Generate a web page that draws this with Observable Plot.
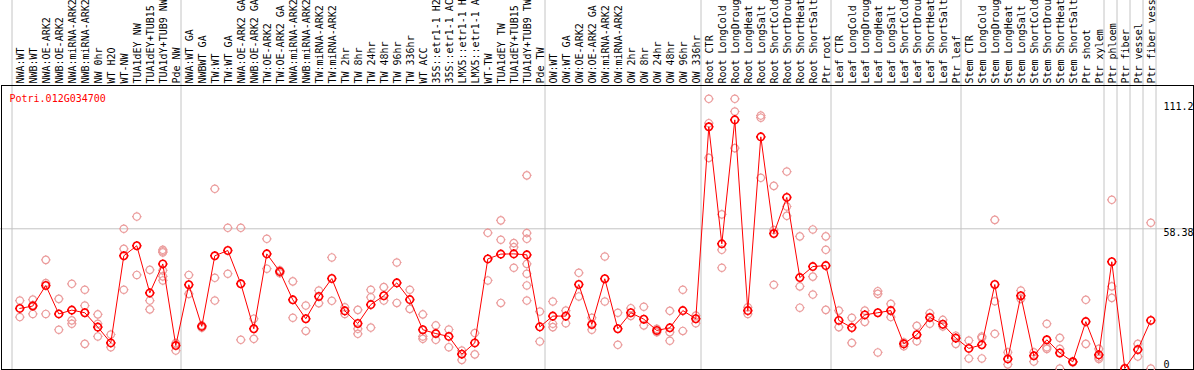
<!DOCTYPE html>
<html><head><meta charset="utf-8">
<script src="https://cdn.jsdelivr.net/npm/d3@7"></script>
<script src="https://cdn.jsdelivr.net/npm/@observablehq/plot@0.6"></script>
<style>body{margin:0;background:#fff}#chart svg{display:block}</style>
</head><body><div id="chart"></div>
<script>
const geneName = "Potri.012G034700";

const labels = [
"NWA:WT","NWB:WT","NWA:OE-ARK2","NWB:OE-ARK2","NWA:miRNA-ARK2","NWB:miRNA-ARK2","NW 0hr","WT H2O","WT-NW","TUA1dEY NW","TUA1dEY+TUB15","TUA1dY+TUB9 NW","Pde NW",
"NWA:WT GA","NWBWT GA","TW:WT","TW:WT GA","NWA:OE-ARK2 GA","NWB:OE-ARK2 GA","TW:OE-ARK2","TW:OE-ARK2 GA","NWA:miRNA-ARK2","NWB:miRNA-ARK2","TW:miRNA-ARK2","TW:miRNA-ARK2","TW 2hr","TW 8hr","TW 24hr","TW 48hr","TW 96hr","TW 336hr","WT ACC","35S::etr1-1 H2","35S::etr1-1 AC","LMX5::etr1-1 H","LMX5::etr1-1 A","WT-TW","TUA1dEY TW","TUA1dEY+TUB15","TUA1dY+TUB9 TW","Pde TW",
"OW:WT","OW:WT GA","OW:OE-ARK2","OW:OE-ARK2 GA","OW:miRNA-ARK2","OW:miRNA-ARK2","OW 2hr","OW 8hr","OW 24hr","OW 48hr","OW 96hr","OW 336hr",
"Root CTR","Root LongCold","Root LongDroug","Root LongHeat","Root LongSalt","Root ShortCold","Root ShortDrou","Root ShortHeat","Root ShortSalt","Ptr root",
"Leaf CTR","Leaf LongCold","Leaf LongDroug","Leaf LongHeat","Leaf LongSalt","Leaf ShortCold","Leaf ShortDrou","Leaf ShortHeat","Leaf ShortSalt","Ptr leaf",
"Stem CTR","Stem LongCold","Stem LongDroug","Stem LongHeat","Stem LongSalt","Stem ShortCold","Stem ShortDrou","Stem ShortHeat","Stem ShortSalt","Ptr shoot","Ptr xylem",
"Ptr phloem","Ptr fiber","Ptr vessel","Ptr fiber vess"];

const groupSizes = [13, 28, 12, 10, 10, 11, 1, 1, 1, 1];

const means = [
25.1, 26.1, 34.7, 22.8, 24.4, 23.3, 17.3, 10.7, 47.1, 51.3, 31.6, 43.7, 9.6,
35.0, 17.6, 47.1, 49.3, 35.4, 16.6, 47.9, 40.5, 28.7, 20.8, 30.1, 37.6, 24.1, 18.8, 26.7, 30.4, 35.8, 28.8, 16.2, 14.6, 13.4, 6.0, 10.7, 45.8, 47.8, 47.9, 47.5, 17.4,
21.9, 21.9, 35.1, 18.4, 37.5, 16.6, 23.3, 20.6, 15.9, 17.0, 24.2, 20.8,
101.0, 52.1, 103.9, 24.2, 96.8, 56.4, 71.5, 38.0, 42.6, 43.0,
20.1, 17.1, 22.4, 23.3, 24.2, 10.3, 14.1, 21.3, 18.5, 12.7,
8.4, 9.9, 35.1, 4.0, 30.4, 5.3, 12.0, 6.5, 2.8, 19.6, 5.7,
44.6, 0, 7.9, 20.1];

const replicates = [
[28.4,21.5],[28.8,22.8,26.5],[45.4,35.7,22.8],[29.1,16.2],[35.4,20.1,18.7],[32.9,26.3,10.3],[22.6,18.7,13.4],[14.2,8.9],[58.4,50.0,32.9],[63.5,39.1],[41.2,28.4,24.7],[49.6,49.0,48.5,41.0,38.5,36.8],[10.6,7.5],
[39.1,31.2],[18.0,17.0],[75.1,37.9,28.4],[58.8,39.6],[58.8,12.0],[20.8,12.4],[54.2,41.7],[41.0,39.8],[36.4,21.2],[26.3,15.7],[32.6,27.3],[46.4,28.3],[25.6,22.8],[24.5,16.6,14.5],[32.9,29.8,17.1],[34.0,28.4],[44.3,27.4],[32.9,24.9],[22.6,13.4,12.4],[18.0,12.0],[16.3,8.9],[7.5,3.6],[14.8,5.9],[56.7,36.8],[61.9,53.8,27.4],[52.4,50.7,42.1],[80.7,56.6,54.2,43.7,39.6,34.7,28.4],[23.8,11.3],
[28.0,18.7,17.3],[24.2,18.9],[40.0,30.1],[21.2,16.2],[46.8,28.0],[23.3,9.9],[25.2,22.0],[25.8,18.0],[16.6,15.2],[24.1,15.2,11.6],[32.9,15.7],[22.1,18.9],
[112.7,102.5,88.0],[64.4,49.6,42.1],[112.7,107.4,92.1],[25.6,22.8],[105.7,104.8,79.7],[76.3,57.9,35.0],[82.3,67.7,63.8],[55.2,34.3,25.4],[58.1,38.4,30.9],[55.2,49.6,24.5],
[24.2,17.3],[21.2,10.7],[24.2,19.5],[32.3,31.2,6.7],[27.0,21.5],[11.0,9.3],[17.8,11.4],[23.1,18.7],[20.3,17.6],[13.7,10.3],
[11.7,4.2],[13.4,12.8,4.2],[62.1,28.1,14.5],[6.8,1.7],[32.6,29.1],[6.8,2.9],[18.7,8.9,8.2],[12.8,8.2,0],[3.0,2.5],[28.7,10.3],[8.2,4.7,4.0],
[70.5,34.3,29.5],[0,0],[10.3,5.0],[60.9,0]];

const yTickValues = [111.2, 58.38, 0];
const yTickLabels = ["111.2", "58.38", "0"];
const gridValues = [58.38];

// derived tables
const meanData = means.map((v, i) => ({i, v}));
const repData = replicates.flatMap((arr, i) => arr.map(v => ({i, v})));
const labelData = labels.map((label, i) => ({i, label}));
const groupStarts = [];
{ let s = 0; for (const n of groupSizes) { groupStarts.push(s); s += n; } groupStarts.push(s); }
const tickData = yTickValues.map((v, j) => ({v, t: yTickLabels[j]}));

// circle glyph with four tiny ticks
const ringSymbol = {
  draw(ctx, size) {
    const r = Math.sqrt(size / Math.PI);
    ctx.moveTo(r, 0);
    ctx.arc(0, 0, r, 0, 2 * Math.PI);
    const e = r + 1.1;
    ctx.moveTo(r, 0); ctx.lineTo(e, 0);
    ctx.moveTo(-r, 0); ctx.lineTo(-e, 0);
    ctx.moveTo(0, r); ctx.lineTo(0, e);
    ctx.moveTo(0, -r); ctx.lineTo(0, -e);
  }
};

const W = 1194, H = 370, mTop = 85, mBottom = 2;
const xFirst = 19.3, step = 13, pxPerUnit = 2.393;
const yTop = (H - mBottom - mTop) / pxPerUnit;

const chart = Plot.plot({
  width: W, height: H,
  marginTop: mTop, marginBottom: mBottom, marginLeft: 0, marginRight: 0,
  x: {domain: [-xFirst / step, (W - xFirst) / step], axis: null},
  y: {domain: [0, yTop], axis: null},
  style: {fontFamily: "'DejaVu Sans Mono', monospace", fontSize: "10px", background: "white", overflow: "visible"},
  marks: [
    Plot.ruleX(groupStarts, {x: d => d - 0.6, stroke: "#c4c4c4", strokeWidth: 1, insetTop: -mTop, insetBottom: -2}),
    Plot.ruleY(gridValues, {stroke: "#c4c4c4", strokeWidth: 1}),
    Plot.frame({stroke: "black", strokeWidth: 1, insetLeft: 1, insetRight: 1, insetBottom: -1}),
    Plot.text(labelData, {x: "i", text: "label", frameAnchor: "top", rotate: -90, textAnchor: "start", lineAnchor: "middle", dy: -2, dx: 0.5, fill: "black", fontSize: 10}),
    Plot.text([geneName], {frameAnchor: "top-left", text: d => d, dx: 9, dy: 13, textAnchor: "start", lineAnchor: "middle", fill: "red", fontSize: 10}),
    Plot.text(tickData.filter(d => d.v !== 0), {y: "v", text: "t", frameAnchor: "right", dx: -31, textAnchor: "start", lineAnchor: "top", fill: "black", fontSize: 10}),
    Plot.text(tickData.filter(d => d.v === 0), {y: "v", text: "t", frameAnchor: "right", dx: -31, dy: -1, textAnchor: "start", lineAnchor: "bottom", fill: "black", fontSize: 10}),
    Plot.dot(repData, {x: "i", y: "v", r: 3.7, symbol: ringSymbol, stroke: "#eb9c9c", fill: "none", strokeWidth: 1.2}),
    Plot.line(meanData, {x: "i", y: "v", stroke: "#ff0000", strokeWidth: 1}),
    Plot.dot(meanData, {x: "i", y: "v", r: 3.7, symbol: ringSymbol, stroke: "#ff0000", fill: "none", strokeWidth: 1.6})
  ]
});
document.getElementById("chart").append(chart);
</script>
</body></html>
